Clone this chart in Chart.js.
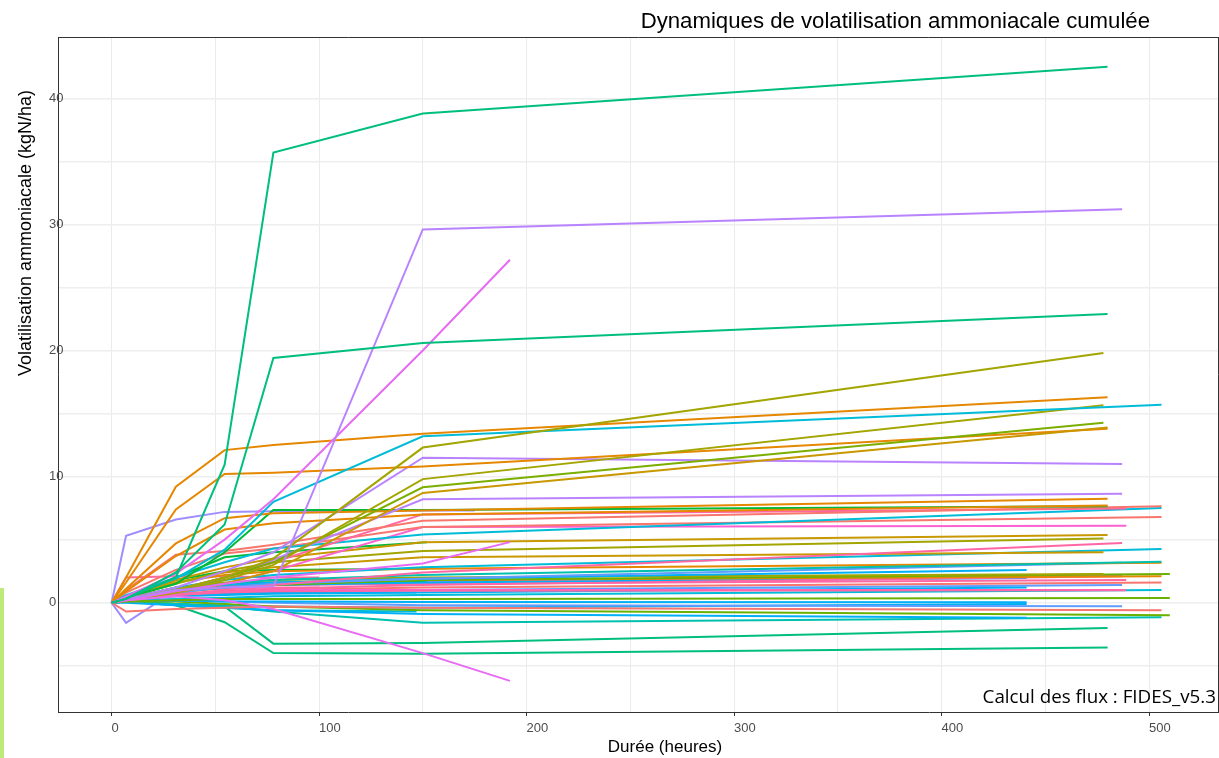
<!DOCTYPE html>
<html>
<head>
<meta charset="utf-8">
<script src="https://cdn.jsdelivr.net/npm/chart.js@4"></script>
<style>
  html, body { margin: 0; padding: 0; background: #ffffff; }
  #wrap { position: relative; width: 1219px; height: 758px; }
  #strip { position: absolute; left: 0; top: 588px; width: 4px; height: 170px; background: #bdea7a; }
</style>
</head>
<body>
<div id="wrap">
  <canvas id="fluxChart" width="1219" height="758"></canvas>
  <div id="strip"></div>
</div>
<script>
// durées des mesures (heures)
const t441 = [0, 7, 31, 54.5, 78, 150, 441];
const t478 = [0, 7, 31, 54.5, 78, 150, 478];
const t480 = [0, 7, 31, 54.5, 78, 150, 480];
const t487 = [0, 7, 31, 54.5, 78, 150, 487];
const t489 = [0, 7, 31, 54.5, 78, 150, 489];
const t506 = [0, 7, 31, 54.5, 78, 150, 506];
const t510 = [0, 7, 31, 54.5, 78, 150, 510];
const t100 = [0, 7, 31, 54.5, 78, 100];
const t147 = [0, 7, 31, 54.5, 78, 147];
const t152 = [0, 7, 31, 54.5, 78, 152];
const t175 = [0, 7, 31, 54.5, 78, 150, 175];
const t192 = [0, 7, 31, 54.5, 78, 150, 192];

const xTickLabels = [0, 100, 200, 300, 400, 500];
const yTickLabels = [0, 10, 20, 30, 40];

const SAL = "#F8766D", ORA = "#E58700", OCH = "#C99800", OLI = "#A3A500", LIM = "#6BB100",
      OLG = "#7CAE00", GRN = "#00BA38", TGR = "#00BF7D", TEA = "#00C0AF", CYA = "#00BCD8",
      BLU = "#00B0F6", BPU = "#619CFF", LAV = "#A08CFF", PUR = "#B983FF", MAG = "#E76BF3",
      PMG = "#FD61D1", PNK = "#FF67A4";

const seriesTimes = [
  t480, t480, t487, t192, t192, t192, t478, t480, t506, t478,
  t478, t480, t480, t487, t487, t480, t480, t480, t506, t489,
  t506, t506, t489, t480, t478, t487, t478, t506, t506, t506,
  t487, t441, t478, t510, t506, t487, t441, t489, t487, t510,
  t441, t487, t506, t510, t441, t506, t480, t480, t152, t152,
  t152, t175, t175, t100, t100, t147, t147, t441, t506, t441,
  t487, t487, t506, t489
];

const seriesColors = [
  TGR, TGR, PUR, MAG, MAG, MAG, OLI, ORA, CYA, OLI,
  OLG, OCH, ORA, PUR, PUR, ORA, ORA, GRN, SAL, PNK,
  CYA, SAL, PMG, OCH, OLI, PNK, OCH, CYA, TEA, ORA,
  BPU, BLU, OLI, LIM, ORA, PNK, BLU, PNK, PMG, LIM,
  BLU, BPU, SAL, LIM, BLU, TEA, TGR, TGR, GRN, GRN,
  GRN, LAV, LAV, PNK, PNK, BLU, CYA, BLU, CYA, BLU,
  PMG, BPU, SAL, PNK
];

// volatilisation cumulée (kgN/ha)
const seriesValues = [
  [0, 0.3, 2.0, 10.95, 35.7, 38.8, 42.5],
  [0, 0.3, 2.4, 6.2, 19.4, 20.6, 22.9],
  [0, 0.3, 1.0, 1.2, 1.3, 29.6, 31.2],
  [0, 0.5, 2.3, 5.0, 8.2, 20.0, 27.2],
  [0, 0.2, 0.5, 0.2, -0.5, -4.0, -6.2],
  [0, 0.2, 0.9, 1.5, 2.0, 3.1, 4.8],
  [0, 0.3, 1.0, 2.0, 3.5, 12.3, 19.8],
  [0, 2.0, 9.2, 12.1, 12.5, 13.4, 16.3],
  [0, 0.5, 1.9, 4.2, 8.0, 13.2, 15.7],
  [0, 0.2, 0.8, 1.8, 3.0, 9.8, 15.66],
  [0, 0.3, 1.0, 2.0, 3.2, 9.15, 14.26],
  [0, 0.2, 0.8, 1.5, 2.5, 8.7, 13.9],
  [0, 1.6, 7.4, 10.2, 10.3, 10.8, 13.8],
  [0, 0.3, 1.2, 2.5, 4.0, 11.5, 11.0],
  [0, 0.3, 1.0, 2.0, 3.4, 8.2, 8.63],
  [0, 1.1, 4.7, 6.7, 7.1, 7.3, 8.25],
  [0, 0.9, 3.7, 5.8, 6.3, 7.0, 7.7],
  [0, 0.4, 1.5, 4.0, 7.35, 7.35, 7.64],
  [0, 1.0, 3.8, 4.1, 4.6, 6.5, 7.64],
  [0, 0.3, 1.0, 2.0, 3.2, 7.0, 7.46],
  [0, 0.6, 2.0, 3.2, 4.3, 5.4, 7.5],
  [0, 0.8, 2.6, 3.9, 4.3, 6.0, 6.8],
  [0, 0.2, 0.8, 1.5, 2.5, 6.0, 6.1],
  [0, 0.5, 1.8, 2.8, 3.5, 4.8, 5.37],
  [0, 0.4, 1.5, 2.5, 3.2, 4.1, 5.08],
  [0, 0.2, 0.6, 1.0, 1.4, 2.4, 4.74],
  [0, 0.4, 1.6, 2.4, 2.8, 3.6, 4.0],
  [0, 0.3, 1.2, 1.8, 2.2, 2.8, 4.26],
  [0, 0.3, 1.0, 1.5, 1.8, 2.2, 3.25],
  [0, 0.4, 1.6, 2.2, 2.5, 2.7, 3.17],
  [0, 0.2, 0.8, 1.2, 1.5, 1.9, 3.17],
  [0, 0.3, 1.0, 1.4, 1.6, 1.9, 2.6],
  [0, 0.3, 1.2, 1.6, 1.8, 2.0, 2.28],
  [0, 0.2, 0.8, 1.2, 1.4, 1.8, 2.28],
  [0, 0.3, 1.0, 1.4, 1.6, 1.8, 2.09],
  [0, 0.2, 0.6, 0.9, 1.1, 1.4, 2.09],
  [0, 0.3, 0.9, 1.2, 1.4, 1.6, 1.96],
  [0, 0.2, 0.6, 0.8, 0.9, 0.95, 0.98],
  [0, 0.3, 0.7, 0.9, 1.0, 1.0, 1.0],
  [0, 0.1, 0.2, 0.3, 0.3, 0.3, 0.37],
  [0, 0.1, 0.2, 0.1, 0.1, 0.05, 0.03],
  [0, 0.1, 0.2, 0.1, 0.0, -0.2, -0.29],
  [0, -0.7, -0.5, -0.4, -0.3, -0.4, -0.61],
  [0, 0.1, 0.1, -0.1, -0.3, -0.6, -1.0],
  [0, 0.0, -0.2, -0.4, -0.6, -0.9, -1.2],
  [0, 0.1, -0.1, -0.3, -0.7, -1.6, -1.16],
  [0, 0.1, -0.1, -0.3, -3.25, -3.2, -2.0],
  [0, 0.1, -0.2, -1.55, -4.0, -4.05, -3.55],
  [0, 0.5, 2.0, 3.6, 4.0, 4.8],
  [0, 0.4, 1.8, 2.5, 2.6, 2.7],
  [0, 0.3, 1.2, 1.5, 1.6, 1.64],
  [0, 5.3, 6.6, 7.2, 7.25, 7.3, 7.3],
  [0, -1.6, 1.0, 1.4, 1.5, 1.6, 1.6],
  [0, 2.0, 2.1, 2.1, 2.0, 2.0],
  [0, 0.5, 0.9, 1.1, 1.2, 1.2],
  [0, 0.3, 0.6, 0.7, 0.8, 0.8],
  [0, 0.1, -0.2, -0.4, -0.6, -0.7],
  [0, 0.1, -0.1, -0.2, -0.3, -0.4, -0.1],
  [0, 0.2, 0.3, 0.4, 0.5, 0.6, 1.0],
  [0, 0.2, 0.5, 0.6, 0.7, 0.8, 1.2],
  [0, 0.3, 0.9, 1.2, 1.4, 1.7, 2.2],
  [0, 0.2, 0.6, 0.8, 0.9, 1.0, 1.4],
  [0, 0.2, 0.6, 0.9, 1.0, 1.2, 1.6],
  [0, 0.4, 1.1, 1.3, 1.4, 1.5, 1.8]
];

const TITLE = "Dynamiques de volatilisation ammoniacale cumulée";
const CAPTION = "Calcul des flux : FIDES_v5.3";
const X_TITLE = "Durée (heures)";
const Y_TITLE = "Volatilisation ammoniacale (kgN/ha)";

const datasets = seriesValues.map((vals, i) => ({
  data: vals.map((v, j) => ({ x: seriesTimes[i][j], y: v })),
  borderColor: seriesColors[i],
  borderWidth: 2,
  pointRadius: 0,
  fill: false,
  tension: 0,
}));

const tickFont = { family: "'Liberation Sans', Arial, sans-serif", size: 13 };

// titres, légende de bas de page et cadre du panneau
const decorPlugin = {
  id: "decor",
  afterDraw(chart) {
    const { ctx, chartArea: a } = chart;
    ctx.save();
    ctx.strokeStyle = "#333333";
    ctx.lineWidth = 1;
    ctx.beginPath();
    ctx.moveTo(a.left, a.top + 0.5);
    ctx.lineTo(a.right, a.top + 0.5);
    ctx.moveTo(a.right - 0.5, a.top);
    ctx.lineTo(a.right - 0.5, a.bottom);
    ctx.stroke();

    ctx.fillStyle = "#000000";
    ctx.textBaseline = "alphabetic";

    ctx.font = "21px 'Liberation Sans', Arial, sans-serif";
    let w = ctx.measureText(TITLE).width;
    let size = 21 * 510 / w;
    ctx.font = size.toFixed(1) + "px 'Liberation Sans', Arial, sans-serif";
    ctx.textAlign = "right";
    ctx.fillText(TITLE, 1150, 28);

    ctx.font = "16px 'Open Sans', sans-serif";
    w = ctx.measureText(CAPTION).width;
    size = 16 * 234 / w;
    ctx.font = size.toFixed(1) + "px 'Open Sans', sans-serif";
    ctx.textAlign = "right";
    ctx.fillText(CAPTION, 1216, 703);

    ctx.font = "17px 'Liberation Sans', Arial, sans-serif";
    ctx.textAlign = "center";
    ctx.fillText(X_TITLE, 665, 752);

    ctx.font = "18px 'Liberation Sans', Arial, sans-serif";
    ctx.translate(31, 233);
    ctx.rotate(-Math.PI / 2);
    ctx.fillText(Y_TITLE, 0, 0);
    ctx.restore();
  },
};

new Chart(document.getElementById("fluxChart"), {
  type: "line",
  data: { datasets },
  plugins: [decorPlugin],
  options: {
    responsive: false,
    animation: false,
    devicePixelRatio: 1,
    layout: { padding: { top: 37, left: 0, right: 0, bottom: 0 } },
    plugins: { legend: { display: false }, tooltip: { enabled: false }, title: { display: false } },
    scales: {
      x: {
        type: "linear",
        min: -25.8,
        max: 533.7,
        afterFit: (s) => { s.height = 46; },
        ticks: {
          stepSize: 50,
          includeBounds: false,
          autoSkip: false,
          maxRotation: 0,
          align: "start",
          padding: 5,
          color: "#4d4d4d",
          font: tickFont,
          callback: (v) => (xTickLabels.includes(v) ? String(v) : ""),
        },
        grid: {
          color: "#ebebeb",
          lineWidth: 1,
          tickLength: 4,
          tickColor: (c) => (c.tick && xTickLabels.includes(c.tick.value) ? "#333333" : "rgba(0,0,0,0)"),
        },
        border: { color: "#333333", width: 1 },
      },
      y: {
        type: "linear",
        min: -8.67,
        max: 44.86,
        afterFit: (s) => { s.width = 58; },
        ticks: {
          stepSize: 5,
          includeBounds: false,
          autoSkip: false,
          mirror: true,
          padding: -9,
          color: "#4d4d4d",
          font: tickFont,
          callback: (v) => (yTickLabels.includes(v) ? String(v) : ""),
        },
        grid: {
          color: "#eeeeee",
          lineWidth: 1.5,
          tickLength: 4,
          tickColor: "rgba(0,0,0,0)",
        },
        border: { color: "#333333", width: 1 },
      },
    },
  },
});
</script>
</body>
</html>
